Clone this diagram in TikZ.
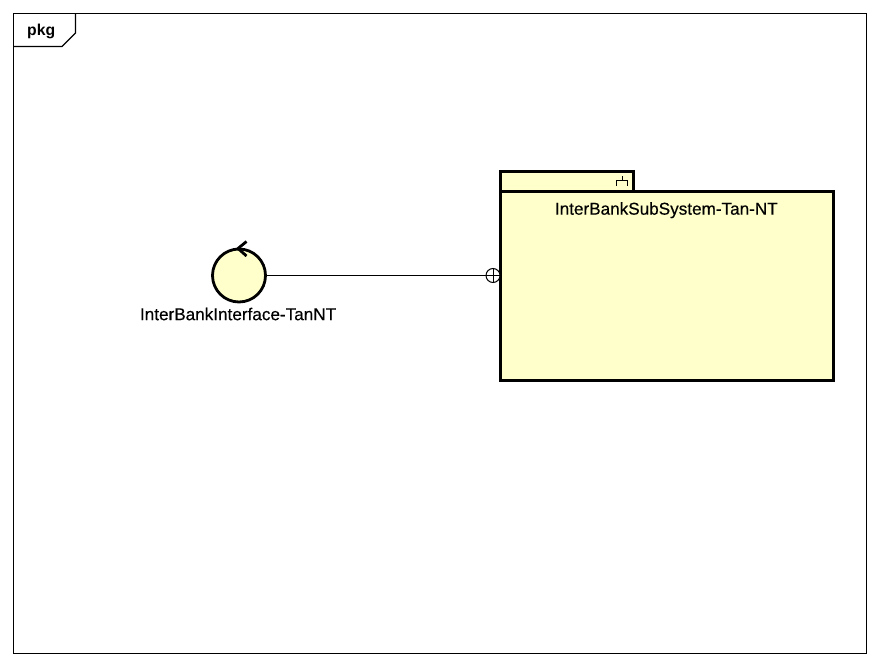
\documentclass[tikz,border=0pt]{standalone}
\usepackage{fontspec}
\setmainfont{Liberation Sans}
\newfontfamily\umlfont[RawFeature={embolden=0.35}]{Liberation Sans}
\usepackage{xcolor}
\usetikzlibrary{calc,positioning}
\definecolor{pkgyellow}{HTML}{FFFFCC}
\definecolor{umlline}{HTML}{000000}

\begin{document}
\begin{tikzpicture}[
  x=0.75pt, y=-0.75pt,
  frameline/.style={draw=umlline, line width=0.8pt},
  thickbox/.style={draw=umlline, fill=pkgyellow, line width=2.1pt, inner sep=0pt, outer sep=0pt},
  port/.style={draw=umlline, fill=white, circle, line width=0.75pt, minimum size=10.5pt, inner sep=0pt, outer sep=0pt},
  link/.style={draw=umlline, line width=0.75pt},
  label/.style={font=\umlfont\fontsize{12.85pt}{14pt}\selectfont, inner sep=0pt, text=black}
]
  \useasboundingbox (0,0) rectangle (880,666);
  % Diagram frame
  \node[frameline, minimum width=639.75pt, minimum height=480pt, inner sep=0pt, outer sep=0pt] (frame) at (440,333.5) {};
  \coordinate (tabtop) at (75.5,13.5);
  \coordinate (tableft) at (13.5,46.5);
  \draw[frameline] (tabtop) -- (75.5,33) -- (62,46.5) -- (tableft);
  \node[label, font=\fontsize{11.8pt}{13pt}\selectfont\bfseries] (framelabel) at (41.2,31) {pkg};

  % Package with tab
  \node[thickbox, minimum width=99.2pt, minimum height=15pt] (tab) at (567,181.3) {};
  \node[thickbox, minimum width=249.4pt, minimum height=141.9pt] (subsystem) at (667,285.9) {};
  \node[label, below=8pt of subsystem.north, xshift=-0.5pt] (subsystemlabel) {InterBankSubSystem-Tan-NT};
  \coordinate (iconbase) at (622.5,181);
  \draw[link] ($(iconbase)+(0,-5)$) -- (iconbase);
  \draw[link] (616.5,186) -- (616.5,181) -- (627.5,181) -- (627.5,186);

  % Provided interface
  \node[thickbox, circle, minimum size=39.75pt] (iface) at (239,275.5) {};
  \draw[line width=2.1pt, draw=umlline] (246.5,241.5) -- (238,248.5) -- (246.5,256);
  \node[label, below=4.1pt of iface.south, xshift=-0.7pt] (ifacelabel) {InterBankInterface-TanNT};

  % Port and connector
  \node[port] (subport) at (493,275.5) {};
  \draw[link] (iface.east) -- (subport.west);
  \draw[link] (subport.north) -- (subport.south);
  \draw[link] (subport.west) -- (subport.east);
  \draw[link] (subport.east) -- (subport.east -| subsystem.west);
\end{tikzpicture}
\end{document}
